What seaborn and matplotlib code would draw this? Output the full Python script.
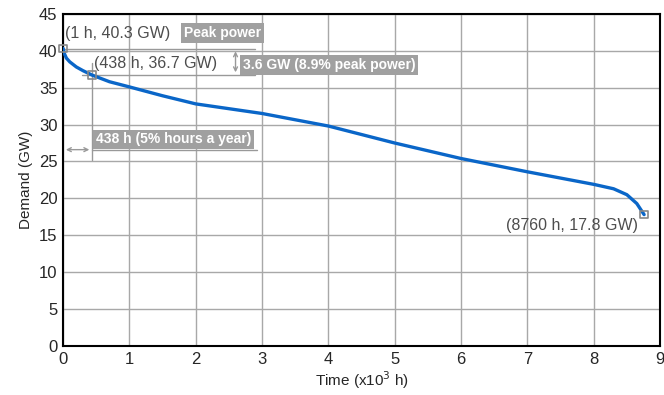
import pandas as pd
import matplotlib.pyplot as plt
import seaborn as sns

# load duration curve
hours = [1, 20, 50, 100, 200, 300, 438, 700, 1000, 1500, 2000, 3000,
         4000, 5000, 6000, 7000, 8000, 8300, 8500, 8650, 8760]
demand = [40.3, 39.6, 39.0, 38.5, 37.8, 37.3, 36.7, 35.8, 35.1, 33.9, 32.8, 31.5,
          29.8, 27.5, 25.4, 23.6, 21.9, 21.3, 20.5, 19.3, 17.8]

points_h = [1, 438, 8760]
points_gw = [40.3, 36.7, 17.8]

df = pd.DataFrame({'Time': [h / 1000 for h in hours], 'Demand': demand})

sns.set_theme(style='white')
plt.rcParams['font.family'] = ['Liberation Sans', 'DejaVu Sans']

fig = plt.figure(figsize=(6.64, 3.95), dpi=100)
ax = fig.add_axes([0.095, 0.124, 0.899, 0.841])

grey = '#999999'
sns.lineplot(data=df, x='Time', y='Demand', color='#0a66c8', linewidth=2.4, ax=ax, zorder=3)

# marked points
ax.scatter([h / 1000 for h in points_h], points_gw, marker='s', s=30,
           facecolors='none', edgecolors='#888888', linewidths=1.2, zorder=4, clip_on=False)

# guide lines
ax.plot([0, 2.9], [40.3, 40.3], color=grey, lw=1, zorder=2)
ax.plot([0.28, 2.9], [36.7, 36.7], color=grey, lw=1, zorder=2)
ax.plot([0.438, 0.438], [38.3, 25.2], color=grey, lw=1, zorder=2)
ax.plot([0.438, 2.92], [26.6, 26.6], color=grey, lw=1, zorder=2)
ax.annotate('', xy=(0, 26.6), xytext=(0.438, 26.6),
            arrowprops=dict(arrowstyle='<->', color=grey, lw=1, mutation_scale=7))
ax.annotate('', xy=(2.6, 40.3), xytext=(2.6, 36.7),
            arrowprops=dict(arrowstyle='<->', color=grey, lw=1, mutation_scale=7))

txt = '#4d4d4d'
ax.text(0.03, 42.4, '(1 h, 40.3 GW)', color=txt, fontsize=11.5, va='center')
ax.text(0.47, 38.3, '(438 h, 36.7 GW)', color=txt, fontsize=11.5, va='center')
ax.text(8.67, 16.3, '(8760 h, 17.8 GW)', color=txt, fontsize=11.5, va='center', ha='right')

box = dict(boxstyle='square,pad=0.2', facecolor='#a0a0a0', edgecolor='none')
ax.text(1.82, 42.4, 'Peak power', color='white', fontsize=10, fontweight='bold',
        va='center', bbox=box)
ax.text(2.71, 38.1, '3.6 GW (8.9% peak power)', color='white', fontsize=10,
        fontweight='bold', va='center', bbox=box)
ax.text(0.5, 28.0, '438 h (5% hours a year)', color='white', fontsize=10,
        fontweight='bold', va='center', bbox=box)

ax.set_xlim(0, 9)
ax.set_ylim(0, 45)
ax.set_xticks(range(0, 10))
ax.set_yticks(range(0, 46, 5))
ax.grid(True, color='#a8a8a8', linewidth=1)
for s in ax.spines.values():
    s.set_color('black')
    s.set_linewidth(1.5)
ax.tick_params(labelsize=12, length=0, pad=4)
ax.set_xlabel('Time (x10$^3$ h)', fontsize=11, labelpad=2)
ax.set_ylabel('Demand (GW)', fontsize=11, labelpad=4)

fig.savefig('out.png', dpi=100)
